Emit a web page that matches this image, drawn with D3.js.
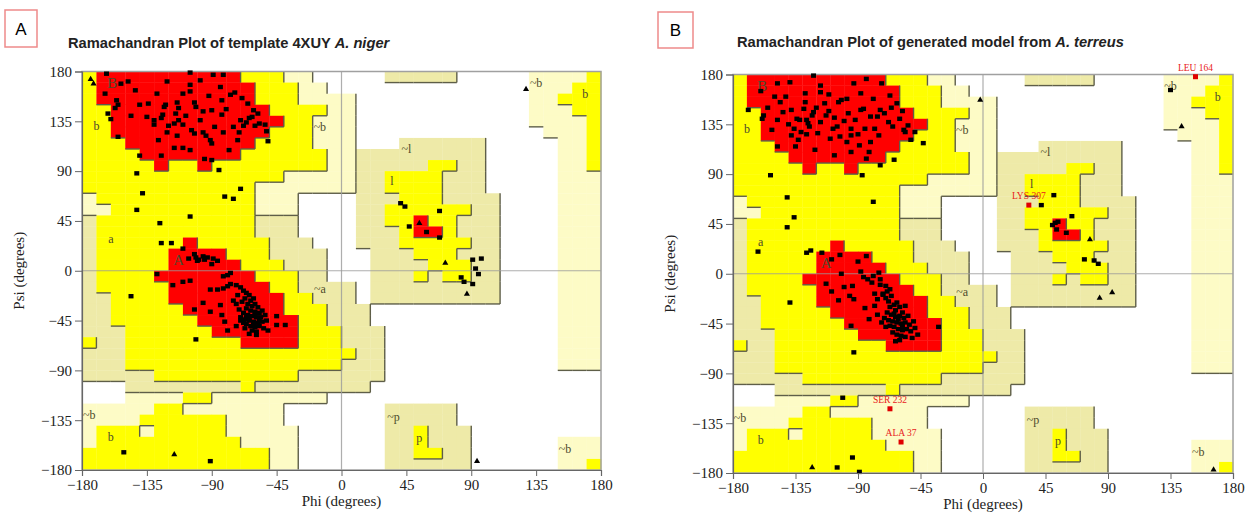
<!DOCTYPE html>
<html>
<head>
<meta charset="utf-8">
<script src="https://cdn.jsdelivr.net/npm/d3@7"></script>
<style>
  body { margin: 0; background: #fff; }
  .tick text { font-family: "Liberation Serif", "DejaVu Serif", serif; font-size: 15px; fill: #222; }
</style>
</head>
<body>
<svg id="chart" width="1245" height="513"></svg>
<script>
// tick values shared by both axes
const ticks = [-180, -135, -90, -45, 0, 45, 90, 135, 180];

// region map, 10 degree cells; row 0 is psi 170..180, column 0 is phi -180..-170
// R core, Y allowed, B / P generously allowed, . disallowed
const regionRows = [
  "YRRRRRRRRRRYYYPP.....BBBBB.....PPPPY",
  "YRRRRRRRRRRRYYYPP..............PPPYY",
  "YRRRRRRRRRRRYYYPPPP............PPYYY",
  "YYRRRRRRRRRRRYYYYPP............PPPYY",
  "YYRRRRRRRRRRRRYYPPP............PPPPY",
  "YYRRRRRRRRRRRYYYPPP.............PPPY",
  "YYYRRRRRRRRRYYYYPPP...BBBBBB.....PPY",
  "YYYYRRRRRRRYYYYYYPPBBBBBBBBB.....PPY",
  "YYYYYRYYRYYYYYYYYPPBBBBBYYBB.....PPY",
  "YYYYYYYYYYYYYYPPPPPBBYYYYBBB.....PPP",
  "YYYYYYYYYYYYPPPPPPPBBYYYYBBB.....PPP",
  "PYYYYYYYYYYYPPP....BBBYYYBBBB....PPP",
  "PPYYYYYYYYYYPPP....BBYYYYYYBB....PPP",
  "BYYYYYYYYYYYBBB....BBYYRYYBBB....PPP",
  "BYYYYYYYYYYYBBB....BBBYRRYBBB....PPP",
  "BYYYYYYRYYYYYBBB...BBBYYYYYBB....PPP",
  "BYYYYYRRRRYYYBBBB...BBBYYYBBB....PPP",
  "BYYYYYRRRRRYYYBBB...BBBBYYYBB....PPP",
  "BYYYYRRRRRRRYYYBB...BBBYBYYBB....PPP",
  "BYYYYYRRRRRRRYYBBBB.BBBBBBBBB....PPP",
  "BBYYYYRRRRRRRRYYBBB.BBBBBBBBB....PPP",
  "BBYYYYYRRRRRRRYYYBBB.............PPP",
  "BBYYYYYYRRRRRRRYYBBB.............PPP",
  "BBBYYYYYYRRRRRRYYYBBB............PPP",
  "YBBYYYYYYYYRRRRYYYBBB............PPP",
  "BBBYYYYYYYYYYYYYYYYBB............PPP",
  "BBBYYYYYYYYYYYYYYYBBB............PPP",
  "BBBBBYYYYYYYYYYBBBBBB...............",
  "...BBBBBBBBYBBBBBBBB................",
  "...PPPPYYPPPPPPPP...................",
  "PPPPPYYPPPPPPP.......BBBBB..........",
  "PPPPYYYYYYPPPP.......BBBBB..........",
  "PYYYPYYYYYPPPPP......BBYBBB.........",
  "PYYYYYYYYYYPPPP......BBYBBB......PPP",
  "YYYYYYYYYYYYYPP......BBYYBB......PPP",
  "YYYYYYYYYYYYYPP......BBBBBB......PPY"
];

const regionLabels = [
  [-159, 170, "B"], [-170, 131, "b"], [-15, 130, "~b"], [-160, 29, "a"],
  [-113, 10, "A"], [-15, -16, "~a"], [45, 110, "~l"], [35, 81, "l"],
  [135, 170, "~b"], [169, 160, "b"], [-175, -130, "~b"], [-160, -150, "b"],
  [36, -132, "~p"], [54, -151, "p"], [155, -161, "~b"]
];

// panel A residues (phi, psi)
const pointsA = [
  [-163,178],[-164,160],[-153,169],[-148,171],[-143,163],[-156,154],[-155,150],[-157,147],[-162,142],[-160,137],
  [-155,121],[-140,104],[-142,88],[-138,70],[-142,55],[-126,43],[-125,25],[-118,25],[-105,49],[-85,91],
  [-81,67],[-75,65],[-70,74],[-51,117],[-121,171],[-105,179],[-105,168],[-105,162],[-89,177],[-82,177],
  [-98,172],[-84,166],[-77,159],[-74,161],[-69,156],[-65,151],[-61,145],[-58,142],[-53,132],[-52,126],
  [-70,136],[-68,131],[-66,134],[-64,138],[-62,139],[-60,131],[-57,133],[-83,141],[-83,154],[-90,145],
  [-96,144],[-102,152],[-101,148],[-102,124],[-104,127],[-114,152],[-113,147],[-115,142],[-113,136],[-116,133],
  [-123,148],[-122,150],[-124,141],[-125,138],[-130,136],[-130,132],[-135,139],[-134,151],[-121,125],[-120,131],
  [-114,122],[-116,111],[-110,111],[-105,109],[-127,118],[-125,104],[-96,125],[-94,122],[-91,118],[-90,115],
  [-95,101],[-78,109],[-90,100],[-82,125],[-75,130],[-71,125],[-72,118],[-108,140],[-110,132],[-98,136],
  [-88,130],[-80,146],[-92,158],[-110,160],[-128,160],[-140,150],[-146,140],
  [-110,20],[-101,12],[-99,10],[-95,10],[-93,12],[-89,11],[-90,6],[-96,13],[-100,9],[-102,15],[-106,11],[-86,9],
  [-128,-3],[-117,-13],[-110,-10],[-105,-9],[-146,-23],[-101,-62],[-102,-35],[-96,-29],[-91,-37],[-84,-31],
  [-83,-40],[-81,-46],[-79,-54],[-91,-17],[-86,-17],[-82,-16],[-79,-14],[-77,-12],[-73,-13],[-82,-5],
  [-79,-4],[-77,-2],[-51,-54],[-45,-41],[-39,-49],[-45,-49],[-59,-58],[-73,-50],[-67,-52],[-70,-45],
  [-70,-15],[-68,-18],[-66,-20],[-64,-22],[-67,-25],[-63,-27],[-61,-25],[-69,-28],[-65,-30],[-62,-32],
  [-60,-30],[-58,-33],[-66,-34],[-63,-36],[-60,-37],[-57,-38],[-55,-36],[-68,-38],[-65,-40],[-62,-41],
  [-59,-42],[-56,-42],[-53,-40],[-70,-42],[-67,-44],[-64,-45],[-61,-46],[-58,-47],[-55,-46],[-52,-45],
  [-66,-48],[-63,-50],[-60,-51],[-57,-50],[-54,-52],[-62,-54],[-59,-55],[-64,-57],[-71,-35],[-73,-30],
  [-75,-27],[-72,-22],[-60,-40],[-64,-43],[-57,-44],[-61,-49],[-66,-42],[-68,-47],
  [41,61],[44,58],[68,54],[47,40],[59,35],[68,30],[91,10],[97,11],[93,2],[95,-3],[83,-6],[85,-10],[91,-12],
  [-151,-164],[-91,-172]
];
// glycines drawn as triangles
const glyA = [[-174,173],[-172,169],[54,43],[72,7],[87,-21],[128,164],[-116,-166],[94,-172]];

// panel B residues
const pointsB = [
  [-169,148],[-158,143],[-159,140],[-148,172],[-148,139],[-148,115],[-139,173],[-150,160],[-146,155],[-138,148],
  [-138,125],[-135,115],[-133,121],[-134,140],[-132,139],[-128,163],[-128,155],[-129,149],[-127,139],[-126,136],
  [-125,133],[-123,143],[-122,146],[-120,150],[-122,179],[-117,164],[-114,154],[-117,137],[-121,112],[-110,122],
  [-108,131],[-105,133],[-107,107],[-104,155],[-102,157],[-98,158],[-98,119],[-95,125],[-93,172],[-95,131],
  [-95,110],[-88,163],[-88,148],[-86,149],[-85,131],[-84,176],[-81,119],[-82,110],[-79,158],[-81,142],
  [-76,142],[-74,148],[-73,172],[-67,161],[-68,137],[-65,133],[-62,154],[-56,128],[-57,130],[-52,121],
  [-49,128],[-43,118],[-64,103],[-74,98],[-87,89],[-153,89],[-141,69],[-136,51],[-141,42],[-162,20],
  [-127,19],[-124,21],[-116,19],[-109,13],[-103,17],[-90,11],[-84,16],[-79,65],
  [-160,165],[-155,150],[-144,146],[-140,135],[-136,131],[-131,128],[-119,127],[-113,143],[-111,147],[-107,141],
  [-100,138],[-97,145],[-92,139],[-90,126],[-89,116],[-78,131],[-75,125],[-71,145],[-66,150],[-60,140],
  [-58,147],[-54,134],[-117,170],[-111,162],[-142,160],[-152,130],[-127,126],[-103,124],[-84,104],
  [-102,0],[-113,-9],[-109,-16],[-104,-24],[-100,-12],[-94,-11],[-96,-20],[-93,-23],[-88,2],[-86,-3],
  [-83,-5],[-80,-8],[-79,-2],[-75,1],[-74,-5],[-74,-10],[-72,-19],[-69,-16],[-95,-47],[-85,-31],
  [-82,-41],[-76,-37],[-78,-29],[-32,-48],[-93,-71],[-139,-26],[-101,-112],[-94,-166],[-105,-175],[-89,-179],
  [-72,-18],[-70,-22],[-68,-25],[-66,-20],[-64,-28],[-67,-30],[-63,-33],[-60,-30],[-58,-35],[-69,-35],
  [-66,-37],[-63,-39],[-60,-38],[-57,-40],[-54,-38],[-71,-40],[-68,-42],[-65,-43],[-62,-44],[-59,-45],
  [-56,-44],[-53,-46],[-50,-43],[-67,-47],[-64,-48],[-61,-50],[-58,-51],[-55,-50],[-52,-52],[-65,-53],
  [-62,-55],[-59,-56],[-56,-57],[-60,-60],[-63,-61],[-70,-48],[-73,-44],[-61,-41],[-58,-47],[-64,-36],
  [-49,-49],[-47,-55],[-51,-58],[-62,-26],[-56,-29],[-76,-23],[-78,-18],[-70,-11],[-67,-14],
  [51,71],[42,62],[64,52],[52,46],[54,47],[50,44],[53,40],[60,37],[73,13],[80,12],[83,9],[135,166]
];
const glyB = [[143,133],[-2,157],[77,31],[84,-22],[93,-17],[166,-177],[-123,-175]];

// residues flagged in disallowed / generous regions of panel B
const flaggedNames = ["LEU 164", "LYS 307", "SER 232", "ALA 37"];
const flaggedPhi = [153, 33, -67, -59];
const flaggedPsi = [178, 62, -122, -152];

const svg = d3.select("#chart");

const panels = [
  { key: "A", title: ["Ramachandran Plot of template 4XUY ", "A. niger"],
    box: [5, 10, 32, 37], titleX: 68, titleY: 48,
    left: 82, right: 601, top: 71.5, bottom: 470, pts: pointsA, gly: glyA, flagged: false },
  { key: "B", title: ["Ramachandran Plot of generated model from ", "A. terreus"],
    box: [658, 12, 35, 36], titleX: 737, titleY: 47,
    left: 733, right: 1233, top: 74.5, bottom: 473, pts: pointsB, gly: glyB, flagged: true }
];

const colors = { R: "#ff0000", Y: "#ffff00", B: "#eeeaa8", P: "#fdfbc6", ".": "#ffffff" };
const level = { R: 4, Y: 3, B: 2, P: 2, ".": 0 };

panels.forEach(p => {
  const x = d3.scaleLinear().domain([-180, 180]).range([p.left, p.right]);
  const y = d3.scaleLinear().domain([-180, 180]).range([p.bottom, p.top]);
  const g = svg.append("g");

  // panel letter box
  g.append("rect")
    .attr("x", p.box[0]).attr("y", p.box[1])
    .attr("width", p.box[2]).attr("height", p.box[3])
    .attr("fill", "#fff").attr("stroke", "#ee8a8a").attr("stroke-width", 1.5);
  g.append("text")
    .attr("x", p.box[0] + p.box[2] / 2).attr("y", p.box[1] + p.box[3] / 2 + 6)
    .attr("text-anchor", "middle")
    .style("font-family", "Liberation Sans, Arial, sans-serif").style("font-size", "17px")
    .text(p.key);

  // title, species name in italics
  const t = g.append("text")
    .attr("x", p.titleX).attr("y", p.titleY)
    .style("font-family", "Liberation Sans, Arial, sans-serif")
    .style("font-size", "14.7px").style("font-weight", "bold").style("fill", "#222");
  t.append("tspan").text(p.title[0]);
  t.append("tspan").style("font-style", "italic").text(p.title[1]);

  // region cells
  const cells = [];
  regionRows.forEach((row, r) => {
    row.split("").forEach((code, c) => cells.push({ r, c, code }));
  });
  g.append("g").selectAll("rect")
    .data(cells)
    .join("rect")
    .attr("x", d => x(-180 + d.c * 10))
    .attr("y", d => y(180 - d.r * 10))
    .attr("width", d => x(-170 + d.c * 10) - x(-180 + d.c * 10) + 0.3)
    .attr("height", d => y(170 - d.r * 10) - y(180 - d.r * 10) + 0.3)
    .attr("fill", d => colors[d.code]);

  // shadow edges on right / bottom of each region
  const edges = [];
  cells.forEach(d => {
    if (d.code === ".") return;
    if (d.c < 35) {
      const n = regionRows[d.r][d.c + 1];
      if (n !== d.code && level[n] <= level[d.code])
        edges.push([-170 + d.c * 10, 180 - d.r * 10, -170 + d.c * 10, 170 - d.r * 10]);
    }
    if (d.r < 35) {
      const n = regionRows[d.r + 1][d.c];
      if (n !== d.code && level[n] <= level[d.code])
        edges.push([-180 + d.c * 10, 170 - d.r * 10, -170 + d.c * 10, 170 - d.r * 10]);
    }
  });
  g.append("g").selectAll("line")
    .data(edges)
    .join("line")
    .attr("x1", d => x(d[0])).attr("y1", d => y(d[1]))
    .attr("x2", d => x(d[2])).attr("y2", d => y(d[3]))
    .attr("stroke", "#5e5e48").attr("stroke-width", 1.4);

  // zero lines
  g.append("line").attr("x1", x(0)).attr("x2", x(0)).attr("y1", y(180)).attr("y2", y(-180))
    .attr("stroke", "#9a9a9a").attr("stroke-width", 1.2).attr("opacity", 0.8);
  g.append("line").attr("x1", x(-180)).attr("x2", x(180)).attr("y1", y(0)).attr("y2", y(0))
    .attr("stroke", "#9a9a9a").attr("stroke-width", 1.2).attr("opacity", 0.8);

  // frame
  g.append("rect")
    .attr("x", x(-180)).attr("y", y(180))
    .attr("width", x(180) - x(-180)).attr("height", y(-180) - y(180))
    .attr("fill", "none").attr("stroke", "#a0a0a0").attr("stroke-width", 1.5);

  // region labels
  g.append("g").selectAll("text")
    .data(regionLabels)
    .join("text")
    .attr("x", d => x(d[0])).attr("y", d => y(d[1]))
    .attr("text-anchor", "middle").attr("dy", "0.35em")
    .style("font-family", "Liberation Serif, serif")
    .style("font-size", d => /[A-Z]/.test(d[2]) ? "15px" : "12px")
    .style("fill", "#4d4a2c")
    .text(d => d[2]);

  // residues
  g.append("g").selectAll("rect")
    .data(p.pts)
    .join("rect")
    .attr("x", d => x(d[0]) - 2.5).attr("y", d => y(d[1]) - 2.2)
    .attr("width", 5).attr("height", 4.4)
    .attr("fill", "#000");
  const tri = d3.symbol().type(d3.symbolTriangle).size(16);
  g.append("g").selectAll("path")
    .data(p.gly)
    .join("path")
    .attr("transform", d => `translate(${x(d[0])},${y(d[1])})`)
    .attr("d", tri)
    .attr("fill", "#000");

  if (p.flagged) {
    const fg = g.append("g");
    fg.selectAll("rect")
      .data(flaggedNames)
      .join("rect")
      .attr("x", (d, i) => x(flaggedPhi[i]) - 2.5).attr("y", (d, i) => y(flaggedPsi[i]) - 2.5)
      .attr("width", 5).attr("height", 5)
      .attr("fill", "#e00000");
    fg.selectAll("text")
      .data(flaggedNames)
      .join("text")
      .attr("x", (d, i) => x(flaggedPhi[i])).attr("y", (d, i) => y(flaggedPsi[i]) - 6)
      .attr("text-anchor", "middle")
      .style("font-family", "Liberation Serif, serif").style("font-size", "9.5px")
      .style("fill", "#e82020")
      .text(d => d);
  }

  // axes
  const ax = g.append("g")
    .attr("transform", `translate(0,${y(-180)})`)
    .call(d3.axisBottom(x).tickValues(ticks).tickSize(6).tickPadding(3));
  const ay = g.append("g")
    .attr("transform", `translate(${x(-180)},0)`)
    .call(d3.axisLeft(y).tickValues(ticks).tickSize(7).tickPadding(3));
  [ax, ay].forEach(a => {
    a.select(".domain").attr("stroke", "#666").attr("stroke-width", 1.2);
    a.selectAll(".tick line").attr("stroke", "#666");
  });

  g.append("text")
    .attr("x", x(0)).attr("y", y(-180) + 36)
    .attr("text-anchor", "middle")
    .style("font-family", "Liberation Serif, serif").style("font-size", "15px").style("fill", "#222")
    .text("Phi (degrees)");
  g.append("text")
    .attr("transform", `translate(${x(-180) - 58},${y(0)}) rotate(-90)`)
    .attr("text-anchor", "middle")
    .style("font-family", "Liberation Serif, serif").style("font-size", "15px").style("fill", "#222")
    .text("Psi (degrees)");
});
</script>
</body>
</html>
